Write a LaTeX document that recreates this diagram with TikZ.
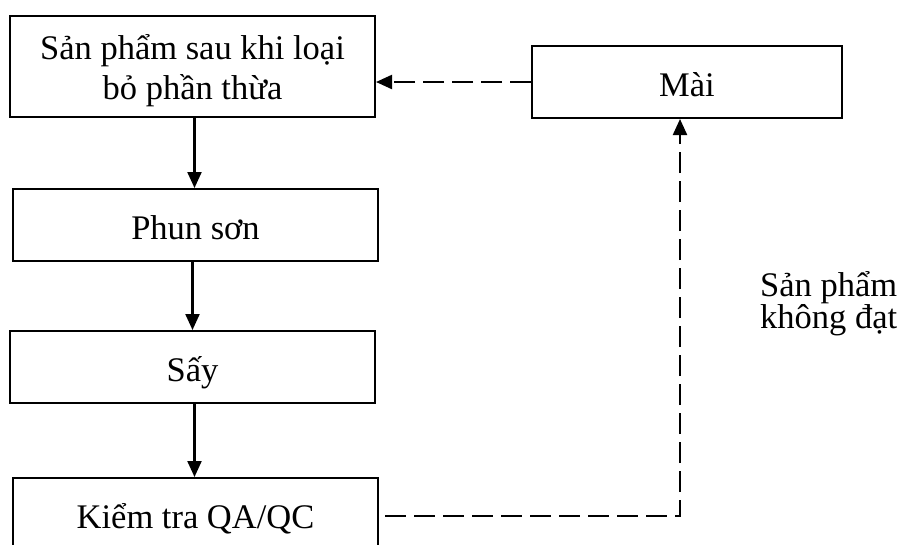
\documentclass[tikz,border=0pt]{standalone}
\usepackage{fontspec}
\setmainfont{Liberation Serif}
\usetikzlibrary{arrows.meta}
\begin{document}
\begin{tikzpicture}[x=1pt,y=-1pt,
  txt/.style={inner sep=0pt, align=center, font=\fontsize{34.5}{40}\selectfont},
  box/.style={txt, draw, line width=2pt, rectangle},
  stepbox/.style={box, text height=28pt, text depth=0pt, minimum height=72},
  flow/.style={line width=2.2pt, -{Triangle[length=16pt,width=14pt]}},
  back/.style={flow, dash pattern=on 21pt off 8pt},
  note/.style={align=left, anchor=west, inner sep=0pt, font=\fontsize{34.5}{31}\selectfont}]
  \clip (0,0) rectangle (899,544);
  % process steps
  \node[box, minimum width=365, minimum height=101] (b1) at (192.5,66.5) {};
  \node[txt] (b1text) at (192.5,71) {Sản phẩm sau khi loại\\bỏ phần thừa};
  \node[stepbox, minimum width=365] (b2) at (195.5,225) {Phun sơn};
  \node[stepbox, minimum width=365] (b3) at (192.5,367) {Sấy};
  \node[stepbox, minimum width=365] (b4) at (195.5,514) {Kiểm tra QA/QC};
  \node[stepbox, minimum width=310] (m) at (687,82) {Mài};
  % main flow
  \draw[flow] ([xshift=2]b1.south) -- ([xshift=2]b1.south |- b2.north);
  \draw[flow] ([xshift=-3]b2.south) -- ([xshift=-3]b2.south |- b3.north);
  \draw[flow] ([xshift=2]b3.south) -- ([xshift=2]b3.south |- b4.north);
  % rework loop
  \coordinate (turn) at (680,516);
  \draw[back] ([xshift=6]b4.east |- turn) -- (turn) -- (turn |- m.south);
  \draw[back] (m.west) -- (b1.east |- m.west);
  \node[note] (lbl) at (760,304) {Sản phẩm\\không đạt};
\end{tikzpicture}
\end{document}
